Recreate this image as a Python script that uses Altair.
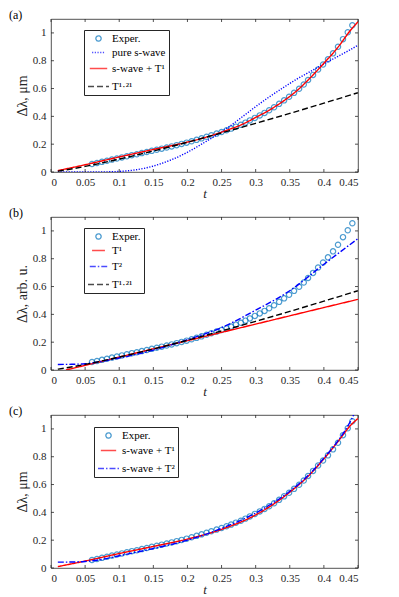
import altair as alt
import pandas as pd

# ---------------- data ----------------
t_exp = [0.0601, 0.0674, 0.0747, 0.0820, 0.0893, 0.0966, 0.1039, 0.1112, 0.1185, 0.1258,
         0.1331, 0.1404, 0.1477, 0.1550, 0.1623, 0.1696, 0.1769, 0.1842, 0.1915, 0.1988,
         0.2061, 0.2134, 0.2207, 0.2280, 0.2350, 0.2427, 0.2500, 0.2573, 0.2640, 0.2710,
         0.2783, 0.2850, 0.2915, 0.2988, 0.3060, 0.3130, 0.3198, 0.3270, 0.3344, 0.3417,
         0.3490, 0.3563, 0.3637, 0.3705, 0.3768, 0.3841, 0.3915, 0.3988, 0.4060, 0.4134,
         0.4207, 0.4280, 0.4350, 0.4417]
v_exp = [0.058, 0.065, 0.073, 0.081, 0.089, 0.097, 0.105, 0.113, 0.121, 0.128,
         0.136, 0.144, 0.152, 0.160, 0.168, 0.176, 0.184, 0.193, 0.202, 0.211,
         0.221, 0.231, 0.242, 0.253, 0.264, 0.276, 0.288, 0.300, 0.312, 0.326,
         0.340, 0.355, 0.371, 0.389, 0.407, 0.425, 0.444, 0.466, 0.490, 0.515,
         0.541, 0.569, 0.598, 0.629, 0.662, 0.698, 0.737, 0.773, 0.810, 0.853,
         0.900, 0.955, 1.005, 1.055]

# panel (a)
a_swave_t = [0.01, 0.05, 0.08, 0.10, 0.12, 0.14, 0.16, 0.18, 0.20, 0.22, 0.24,
             0.26, 0.28, 0.30, 0.32, 0.34, 0.36, 0.38, 0.40, 0.42, 0.44, 0.45]
a_swave_v = [0.0, 0.0, 0.001, 0.004, 0.013, 0.030, 0.058, 0.095, 0.142, 0.198, 0.258,
             0.322, 0.395, 0.470, 0.540, 0.605, 0.667, 0.722, 0.777, 0.830, 0.883, 0.912]
a_red_t = [0.01, 0.05, 0.10, 0.15, 0.20, 0.22, 0.24, 0.26, 0.28, 0.30, 0.32,
           0.34, 0.36, 0.38, 0.40, 0.42, 0.44, 0.45]
a_red_v = [0.010, 0.052, 0.108, 0.162, 0.215, 0.240, 0.270, 0.304, 0.342, 0.392, 0.445,
           0.508, 0.583, 0.677, 0.782, 0.893, 1.025, 1.080]
pow_t = [0.01, 0.05, 0.10, 0.15, 0.20, 0.25, 0.30, 0.35, 0.40, 0.45]
pow_v = [0.006, 0.040, 0.093, 0.151, 0.214, 0.281, 0.350, 0.421, 0.495, 0.570]

# panel (b)
b_lin_t = [0.022, 0.10, 0.20, 0.30, 0.40, 0.45]
b_lin_v = [0.000, 0.093, 0.211, 0.330, 0.449, 0.508]
b_sq_t = [0.01, 0.03, 0.05, 0.07, 0.10, 0.15, 0.20, 0.25, 0.30, 0.35, 0.40, 0.45]
b_sq_v = [0.040, 0.041, 0.045, 0.058, 0.086, 0.143, 0.218, 0.305, 0.430, 0.570, 0.760, 0.945]

# panel (c)
c_red_t = [0.01, 0.05, 0.10, 0.15, 0.20, 0.25, 0.30, 0.35, 0.38, 0.40, 0.42, 0.44, 0.45]
c_red_v = [0.010, 0.050, 0.104, 0.155, 0.208, 0.278, 0.382, 0.545, 0.675, 0.785, 0.905, 1.030, 1.075]
c_sq_t = [0.01, 0.03, 0.05, 0.07, 0.10, 0.15, 0.20, 0.25, 0.30, 0.35, 0.38, 0.40, 0.42, 0.43, 0.44, 0.45]
c_sq_v = [0.042, 0.043, 0.047, 0.058, 0.088, 0.140, 0.200, 0.285, 0.395, 0.552, 0.680, 0.790,
          0.910, 0.980, 1.065, 1.170]

x_ticks = [0, 0.05, 0.1, 0.15, 0.2, 0.25, 0.3, 0.35, 0.4, 0.45]
y_ticks = [0, 0.2, 0.4, 0.6, 0.8, 1.0]

# ---------------- styling ----------------
FONT = "Liberation Serif"
AX = "#262626"
W, H = 307, 153
TL = 3  # inward tick length

EXP_BLUE = "#0072BD"
SOLID = [1, 0]
DOT = [1.2, 1.5]
DASH = [6, 3]
DASHDOT = [6, 2, 1.5, 2]


def make_panel(label, ytitle, lines, colors, dashes, lx, ly):
    dom = ["Exper."] + [n for n, _, _ in lines]
    pts = pd.DataFrame({"t": t_exp, "v": v_exp, "series": "Exper."})
    rows = []
    for name, tl, vl in lines:
        for a, b in zip(tl, vl):
            rows.append({"t": a, "v": b, "series": name})
    ldf = pd.DataFrame(rows)

    xs = alt.Scale(domain=[0, 0.45], nice=False, zero=False)
    ys = alt.Scale(domain=[0, 1.1], nice=False)
    xaxis = alt.Axis(values=x_ticks, format="~g", title="t", ticks=False, domain=False,
                     grid=False, labelPadding=4, titlePadding=0, titleFontStyle="italic",
                     labelFontSize=11, titleFontSize=13, labelColor=AX, titleColor=AX,
                     titleFontWeight="normal", labelFont=FONT, titleFont=FONT)
    yaxis = alt.Axis(values=y_ticks, format="~g", title=ytitle, ticks=False, domain=False,
                     grid=False, labelPadding=5, titlePadding=3,
                     labelFontSize=11, titleFontSize=14, labelColor=AX, titleColor=AX,
                     titleFontWeight="normal", labelFont=FONT, titleFont=FONT)
    X = alt.X("t:Q", scale=xs, axis=xaxis)
    Y = alt.Y("v:Q", scale=ys, axis=yaxis)

    shapes = ["circle"] + ["stroke"] * len(lines)
    sizes = [28] + [441] * len(lines)
    all_colors = [EXP_BLUE] + colors
    all_dashes = [SOLID] + dashes

    legend = alt.Legend(title=None, orient="none", legendX=lx, legendY=ly,
                        strokeColor=AX, fillColor="white", padding=3,
                        labelFont=FONT, labelFontSize=11, labelColor="black",
                        symbolStrokeWidth=1.3, rowPadding=1, labelOffset=2,
                        cornerRadius=0)
    color = alt.Color("series:N", scale=alt.Scale(domain=dom, range=all_colors), legend=legend)
    shape = alt.Shape("series:N", scale=alt.Scale(domain=dom, range=shapes))
    size = alt.Size("series:N", scale=alt.Scale(domain=dom, range=sizes))
    dash = alt.StrokeDash("series:N", scale=alt.Scale(domain=dom, range=all_dashes))

    points = alt.Chart(pts).mark_point(filled=False, strokeWidth=1.2, clip=True).encode(
        x=X, y=Y, color=color, shape=shape, size=size)
    curves = alt.Chart(ldf).mark_line(strokeWidth=1.4, clip=True, interpolate="monotone").encode(
        x=X, y=Y, color=color, strokeDash=dash)

    xt = pd.DataFrame({"t": x_ticks})
    yt = pd.DataFrame({"v": y_ticks})
    tb = alt.Chart(xt).mark_rule(color=AX, strokeWidth=0.8).encode(
        x=X, y=alt.value(H), y2=alt.value(H - TL))
    tt = alt.Chart(xt).mark_rule(color=AX, strokeWidth=0.8).encode(
        x=X, y=alt.value(0), y2=alt.value(TL))
    tlft = alt.Chart(yt).mark_rule(color=AX, strokeWidth=0.8).encode(
        y=Y, x=alt.value(0), x2=alt.value(TL))
    trgt = alt.Chart(yt).mark_rule(color=AX, strokeWidth=0.8).encode(
        y=Y, x=alt.value(W), x2=alt.value(W - TL))

    title = alt.TitleParams(text=label, anchor="start", frame="group", dx=-42, offset=-3,
                            fontSize=12, font=FONT, fontWeight="normal", color="black")
    return alt.layer(points, curves, tb, tt, tlft, trgt).properties(
        width=W, height=H, title=title)


pa = make_panel("(a)", "Δλ, μm",
                [("pure s-wave", a_swave_t, a_swave_v),
                 ("s-wave + T¹", a_red_t, a_red_v),
                 ("T¹·²¹", pow_t, pow_v)],
                ["#0000FF", "#FF0000", "#000000"], [DOT, SOLID, DASH], 33, 11)
pb = make_panel("(b)", "Δλ, arb. u.",
                [("T¹", b_lin_t, b_lin_v),
                 ("T²", b_sq_t, b_sq_v),
                 ("T¹·²¹", pow_t, pow_v)],
                ["#FF0000", "#0000FF", "#000000"], [SOLID, DASHDOT, DASH], 33, 11)
pc = make_panel("(c)", "Δλ, μm",
                [("s-wave + T¹", c_red_t, c_red_v),
                 ("s-wave + T²", c_sq_t, c_sq_v)],
                ["#FF0000", "#0000FF"], [SOLID, DASHDOT], 43, 12)

chart = alt.vconcat(pa, pb, pc, spacing=45, bounds="flush").resolve_scale(
    color="independent", shape="independent", size="independent", strokeDash="independent"
).properties(padding={"left": 0, "top": 0, "right": 5, "bottom": 5}).configure(
    font=FONT
).configure_view(stroke=AX, strokeWidth=0.8)

chart.save("out.html", embed_options={"renderer": "svg", "actions": False})
